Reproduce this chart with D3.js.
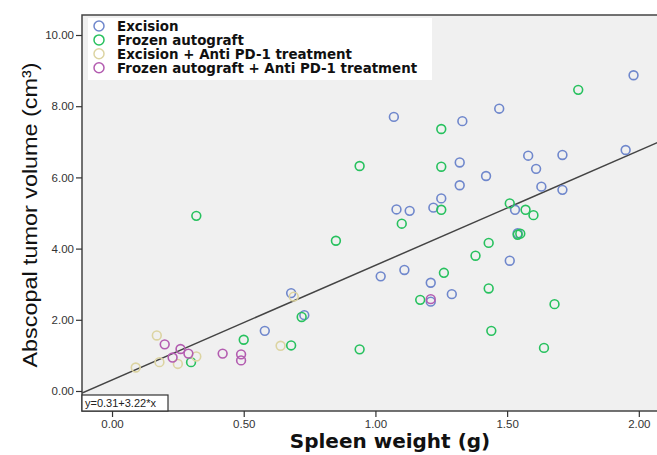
<!DOCTYPE html>
<html>
<head>
<meta charset="utf-8">
<script src="https://cdn.jsdelivr.net/npm/d3@7"></script>
<style>
  html, body { margin: 0; padding: 0; background: #ffffff; }
  svg { display: block; }
</style>
</head>
<body>
<svg id="chart" width="657" height="455"></svg>
<script>
// data: [spleen weight (g), tumor volume (cm3)]
const excision = [
  [1.98, 8.87], [1.07, 7.70], [1.47, 7.93], [1.33, 7.58], [1.32, 6.42],
  [1.58, 6.61], [1.71, 6.63], [1.95, 6.77], [1.61, 6.24], [1.42, 6.04],
  [1.32, 5.78], [1.63, 5.74], [1.71, 5.65], [1.25, 5.41], [1.08, 5.10],
  [1.13, 5.06], [1.22, 5.15], [1.53, 5.09], [1.54, 4.43], [1.51, 3.66],
  [1.11, 3.40], [1.02, 3.22], [1.21, 3.04], [1.29, 2.72], [1.21, 2.51],
  [0.68, 2.75], [0.73, 2.13], [0.58, 1.69],
];
const frozen = [
  [1.77, 8.46], [1.25, 7.36], [0.94, 6.32], [1.25, 6.30], [1.51, 5.27],
  [1.25, 5.09], [1.57, 5.09], [1.60, 4.94], [1.10, 4.70], [1.54, 4.39],
  [1.55, 4.42], [1.43, 4.16], [1.38, 3.80], [1.26, 3.32], [1.43, 2.88],
  [1.17, 2.56], [1.68, 2.44], [1.44, 1.69], [1.64, 1.21], [0.32, 4.92],
  [0.85, 4.22], [0.72, 2.08], [0.50, 1.44], [0.68, 1.28], [0.94, 1.17],
  [0.30, 0.81],
];
const excisionPd1 = [
  [0.17, 1.56], [0.32, 0.97], [0.18, 0.81], [0.25, 0.76], [0.09, 0.66],
  [0.64, 1.27], [0.69, 2.65],
];
const frozenPd1 = [
  [0.20, 1.31], [0.26, 1.18], [0.29, 1.05], [0.23, 0.94], [0.42, 1.05],
  [0.49, 1.03], [0.49, 0.86], [1.21, 2.58],
];

const groups = [
  { name: "Excision", color: "#6f87cc", points: excision },
  { name: "Frozen autograft", color: "#27c15e", points: frozen },
  { name: "Excision + Anti PD-1 treatment", color: "#dcd4a2", points: excisionPd1 },
  { name: "Frozen autograft + Anti PD-1 treatment", color: "#b35cb0", points: frozenPd1 },
];

const fit = { intercept: 0.31, slope: 3.22 };
const xTicks = [0, 0.5, 1, 1.5, 2];
const yTicks = [0, 2, 4, 6, 8, 10];

const svg = d3.select("#chart");
const plot = { left: 82, top: 15, right: 662, bottom: 411 };

const x = d3.scaleLinear().domain([-0.114, 2.088]).range([plot.left, plot.right]);
const y = d3.scaleLinear().domain([-0.562, 10.562]).range([plot.bottom, plot.top]);

svg.append("defs").append("clipPath").attr("id", "clip")
  .append("rect")
  .attr("x", plot.left).attr("y", plot.top)
  .attr("width", plot.right - plot.left).attr("height", plot.bottom - plot.top);

svg.append("rect")
  .attr("x", plot.left).attr("y", plot.top)
  .attr("width", plot.right - plot.left).attr("height", plot.bottom - plot.top)
  .attr("fill", "#f0f0f0");

const body = svg.append("g").attr("clip-path", "url(#clip)");

// regression line
const xs = x.domain();
body.append("line")
  .attr("x1", x(xs[0])).attr("y1", y(fit.intercept + fit.slope * xs[0]))
  .attr("x2", x(xs[1])).attr("y2", y(fit.intercept + fit.slope * xs[1]))
  .attr("stroke", "#444")
  .attr("stroke-width", 1.5);

for (const g of groups) {
  body.append("g")
    .selectAll("circle")
    .data(g.points)
    .join("circle")
    .attr("cx", (d) => x(d[0]))
    .attr("cy", (d) => y(d[1]))
    .attr("r", 4.4)
    .attr("fill", "none")
    .attr("stroke", g.color)
    .attr("stroke-width", 1.6);
}

// frame
svg.append("rect")
  .attr("x", plot.left).attr("y", plot.top)
  .attr("width", plot.right - plot.left).attr("height", plot.bottom - plot.top)
  .attr("fill", "none")
  .attr("stroke", "#444")
  .attr("stroke-width", 1.5);

// axes
const yAxis = svg.append("g")
  .attr("transform", `translate(${plot.left},0)`)
  .call(d3.axisLeft(y).tickValues(yTicks).tickFormat(d3.format(".2f")).tickSize(6).tickPadding(2));
const xAxis = svg.append("g")
  .attr("transform", `translate(0,${plot.bottom})`)
  .call(d3.axisBottom(x).tickValues(xTicks).tickFormat(d3.format(".2f")).tickSize(6).tickPadding(3));

for (const ax of [xAxis, yAxis]) {
  ax.select(".domain").remove();
  ax.selectAll(".tick line").attr("stroke", "#333").attr("stroke-width", 1.2);
  ax.selectAll(".tick text")
    .attr("fill", "#333")
    .attr("font-family", "Liberation Sans, Arial, sans-serif")
    .attr("font-size", 11.5);
}

// equation box
const eq = svg.append("g");
eq.append("rect")
  .attr("x", plot.left).attr("y", 395)
  .attr("width", 86).attr("height", plot.bottom - 395)
  .attr("fill", "#ffffff")
  .attr("stroke", "#333")
  .attr("stroke-width", 1.2);
eq.append("text")
  .attr("x", plot.left + 3).attr("y", 407)
  .attr("font-family", "Liberation Sans, Arial, sans-serif")
  .attr("font-size", 11)
  .attr("fill", "#222")
  .text(`y=${fit.intercept}+${fit.slope}*x`);

// legend
const legend = svg.append("g");
legend.append("rect")
  .attr("x", 88).attr("y", 18)
  .attr("width", 344).attr("height", 62)
  .attr("fill", "#ffffff");
const item = legend.selectAll("g.item")
  .data(groups)
  .join("g")
  .attr("class", "item")
  .attr("transform", (d, i) => `translate(99,${26 + i * 13.9})`);
item.append("circle")
  .attr("r", 5)
  .attr("fill", "none")
  .attr("stroke", (d) => d.color)
  .attr("stroke-width", 1.5);
item.append("text")
  .attr("x", 18).attr("y", 4.8)
  .attr("font-family", "DejaVu Sans, Verdana, sans-serif")
  .attr("font-weight", "bold")
  .attr("font-size", 13.4)
  .attr("fill", "#111")
  .text((d) => d.name);

// axis titles
svg.append("text")
  .attr("x", 390).attr("y", 448)
  .attr("text-anchor", "middle")
  .attr("font-family", "DejaVu Sans, Verdana, sans-serif")
  .attr("font-weight", "bold")
  .attr("font-size", 20)
  .attr("fill", "#111")
  .text("Spleen weight (g)");

svg.append("text")
  .attr("transform", "translate(37,215) rotate(-90)")
  .attr("text-anchor", "middle")
  .attr("font-family", "Liberation Sans Narrow, Liberation Sans, Arial, sans-serif")
  .attr("font-size", 21)
  .attr("textLength", 305)
  .attr("lengthAdjust", "spacingAndGlyphs")
  .attr("fill", "#111")
  .text("Abscopal tumor volume (cm³)");
</script>
</body>
</html>
